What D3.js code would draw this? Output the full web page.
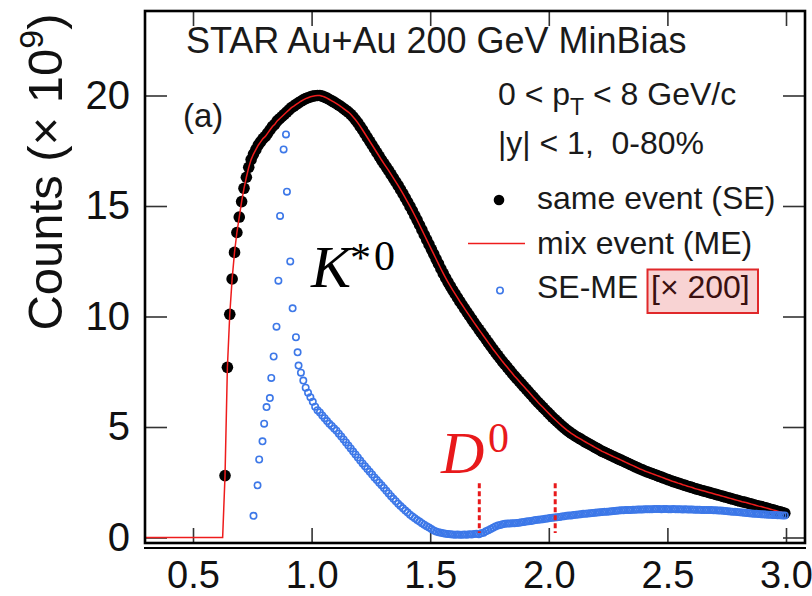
<!DOCTYPE html>
<html><head><meta charset="utf-8">
<script src="https://cdn.jsdelivr.net/npm/d3@7"></script>
<style>body{margin:0;background:#fff}svg{display:block}</style>
</head><body>
<svg id="chart" width="812" height="596"></svg>
<script>
// ---------------- data ----------------
// same event (SE) invariant-mass counts (x 1e9), bins of 0.01 GeV starting at 0.635
const seBinStart = 0.635;
const binWidth = 0.01;
const sameEvent = [
 2.8, 7.7, 10.1, 11.7, 12.9, 13.8, 14.5, 15.2, 15.8, 16.3,
 16.75, 17.1, 17.35, 17.55, 17.75, 17.9, 18.05, 18.15, 18.3, 18.45,
 18.6, 18.7, 18.85, 18.95, 19.05, 19.15, 19.25, 19.35, 19.45, 19.52,
 19.6, 19.67, 19.74, 19.8, 19.86, 19.9, 19.94, 19.97, 19.99, 20.0,
 20.0, 19.97, 19.93, 19.88, 19.82, 19.76, 19.7, 19.63, 19.56, 19.49,
 19.41, 19.33, 19.25, 19.15, 19.03, 18.9, 18.76, 18.6, 18.44, 18.27,
 18.1, 17.93, 17.76, 17.59, 17.42, 17.25, 17.08, 16.92, 16.76, 16.6,
 16.43, 16.26, 16.09, 15.92, 15.74, 15.56, 15.37, 15.18, 14.98, 14.78,
 14.57, 14.36, 14.14, 13.92, 13.7, 13.48, 13.26, 13.04, 12.82, 12.6,
 12.38, 12.16, 11.95, 11.75, 11.56, 11.37, 11.19, 11.02, 10.85, 10.68,
 10.52, 10.36, 10.2, 10.04, 9.88, 9.72, 9.57, 9.42, 9.27, 9.12,
 8.97, 8.82, 8.67, 8.52, 8.38, 8.24, 8.1, 7.96, 7.83, 7.7,
 7.57, 7.44, 7.31, 7.19, 7.07, 6.95, 6.83, 6.71, 6.59, 6.47,
 6.35, 6.23, 6.11, 6.0, 5.89, 5.78, 5.67, 5.56, 5.45, 5.35,
 5.25, 5.15, 5.05, 4.96, 4.87, 4.79, 4.71, 4.64, 4.57, 4.51,
 4.45, 4.38, 4.32, 4.26, 4.2, 4.14, 4.08, 4.02, 3.96, 3.9,
 3.85, 3.8, 3.75, 3.7, 3.65, 3.6, 3.55, 3.5, 3.45, 3.4,
 3.35, 3.3, 3.25, 3.2, 3.15, 3.1, 3.06, 3.01, 2.97, 2.93,
 2.89, 2.85, 2.81, 2.77, 2.73, 2.69, 2.65, 2.61, 2.57, 2.53,
 2.5, 2.46, 2.43, 2.39, 2.36, 2.32, 2.29, 2.26, 2.22, 2.19,
 2.16, 2.13, 2.1, 2.07, 2.04, 2.01, 1.98, 1.95, 1.92, 1.89,
 1.86, 1.83, 1.8, 1.77, 1.74, 1.71, 1.68, 1.65, 1.62, 1.6,
 1.57, 1.54, 1.51, 1.48, 1.45, 1.42, 1.4, 1.37, 1.34, 1.31,
 1.28, 1.25, 1.22, 1.19, 1.16, 1.13, 1.1
];

// mixed event (ME): zero below the K-pi threshold, then lies on top of the SE points
const meBelowThreshold = [[0.297, 0], [0.625, 0]];

// SE-ME (x 200): sparse low-mass points [mass, counts]
const seMinusMeLow = [
 [0.755, 0.98], [0.772, 2.36], [0.779, 3.53], [0.793, 4.35], [0.800, 5.15],
 [0.810, 5.90], [0.824, 6.31], [0.830, 7.22], [0.840, 8.19], [0.852, 9.54],
 [0.860, 11.62], [0.867, 14.55], [0.882, 17.56], [0.892, 18.24], [0.896, 15.65],
 [0.910, 12.49], [0.920, 10.37], [0.934, 9.06], [0.941, 8.38], [0.945, 7.78]
];
// SE-ME (x 200): bins of 0.01 GeV starting at 0.955
const residualBinStart = 0.955;
const seMinusMe = [
 7.46, 7.1, 6.78, 6.55, 6.35, 6.14, 5.92, 5.76, 5.66, 5.52,
 5.4, 5.27, 5.15, 5.05, 4.93, 4.83, 4.7, 4.57, 4.44, 4.3,
 4.16, 4.03, 3.89, 3.76, 3.62, 3.48, 3.35, 3.22, 3.1, 2.97,
 2.85, 2.72, 2.6, 2.48, 2.36, 2.24, 2.11, 1.99, 1.87, 1.75,
 1.64, 1.53, 1.42, 1.32, 1.22, 1.13, 1.03, 0.95, 0.87, 0.79,
 0.72, 0.65, 0.58, 0.51, 0.45, 0.38, 0.32, 0.27, 0.24, 0.21,
 0.19, 0.17, 0.16, 0.15, 0.14, 0.13, 0.14, 0.12, 0.13, 0.14,
 0.12, 0.15, 0.14, 0.16, 0.17, 0.15, 0.19, 0.22, 0.28, 0.33,
 0.38, 0.44, 0.5, 0.54, 0.57, 0.6, 0.62, 0.63, 0.63, 0.64,
 0.64, 0.66, 0.67, 0.69, 0.7, 0.72, 0.74, 0.75, 0.77, 0.79,
 0.8, 0.82, 0.83, 0.85, 0.86, 0.88, 0.89, 0.9, 0.92, 0.93,
 0.95, 0.96, 0.98, 0.99, 1.0, 1.02, 1.03, 1.04, 1.05, 1.07,
 1.08, 1.09, 1.1, 1.11, 1.12, 1.13, 1.14, 1.15, 1.16, 1.17,
 1.18, 1.19, 1.2, 1.21, 1.22, 1.23, 1.23, 1.24, 1.25, 1.25,
 1.26, 1.26, 1.27, 1.27, 1.27, 1.28, 1.28, 1.28, 1.28, 1.29,
 1.29, 1.29, 1.28, 1.29, 1.29, 1.28, 1.28, 1.29, 1.28, 1.28,
 1.28, 1.27, 1.28, 1.27, 1.27, 1.27, 1.26, 1.26, 1.26, 1.25,
 1.25, 1.25, 1.24, 1.24, 1.23, 1.23, 1.22, 1.22, 1.21, 1.2,
 1.19, 1.18, 1.17, 1.16, 1.15, 1.14, 1.13, 1.12, 1.11, 1.1,
 1.09, 1.08, 1.07, 1.06, 1.05, 1.05, 1.04, 1.03, 1.03, 1.02,
 1.02, 1.01, 1.01, 1.0, 1.0
];

const xTicks = [0.5, 1.0, 1.5, 2.0, 2.5, 3.0];
const yTicks = [0, 5, 10, 15, 20];
const d0Window = [1.707, 2.027];      // dotted red lines (GeV)
const d0LineSpan = [0.2, 2.45];       // vertical extent of the dotted lines (x1e9)

const titleText = "STAR Au+Au 200 GeV MinBias";
const panelLabel = "(a)";
const legendLabels = ["same event (SE)", "mix event (ME)", "SE-ME"];
const scaleLabel = "[\u00d7 200]";

// ---------------- drawing ----------------
const svg = d3.select("#chart");
const frame = {left: 145, right: 805, top: 11, bottom: 543};
const x = d3.scaleLinear().domain([0.5, 3.0]).range([193, 786]);
const y = d3.scaleLinear().domain([0, 20]).range([537.5, 95.5]);

const seData = sameEvent.map((v, i) => [seBinStart + i * binWidth, v]);
const meData = meBelowThreshold.concat(seData);
const resData = seMinusMeLow.concat(seMinusMe.map((v, i) => [residualBinStart + i * binWidth, v]));

const FONT = "'Liberation Sans', Arial, Helvetica, sans-serif";
const SERIF = "'Liberation Serif', 'DejaVu Serif', serif";

svg.append("rect").attr("width", 812).attr("height", 596).attr("fill", "#fff");

// axes (ticks inside the frame on all four sides)
function styleAxis(g) {
  g.select(".domain").remove();
  g.selectAll(".tick line").attr("stroke", "#333").attr("stroke-width", 1.6);
}
svg.append("g").attr("transform", `translate(0,${frame.bottom})`)
  .call(d3.axisBottom(x).tickValues(xTicks).tickSizeInner(-15).tickSizeOuter(0)
    .tickPadding(18).tickFormat(d3.format(".1f")))
  .call(styleAxis)
  .call(g => g.selectAll(".tick text").attr("font-family", FONT).attr("font-size", 38)
    .attr("fill", "#111").attr("dy", "0.71em"));
svg.append("g").attr("transform", `translate(0,${frame.top})`)
  .call(d3.axisTop(x).tickValues(xTicks).tickSizeInner(-15).tickSizeOuter(0).tickFormat(""))
  .call(styleAxis);
svg.append("g").attr("transform", `translate(${frame.left},0)`)
  .call(d3.axisLeft(y).tickValues(yTicks).tickSizeInner(-22).tickSizeOuter(0).tickPadding(15))
  .call(styleAxis)
  .call(g => g.selectAll(".tick text").attr("font-family", FONT).attr("font-size", 40)
    .attr("fill", "#111"));
svg.append("g").attr("transform", `translate(${frame.right},0)`)
  .call(d3.axisRight(y).tickValues(yTicks).tickSizeInner(-22).tickSizeOuter(0).tickFormat(""))
  .call(styleAxis);

// data: SE black dots
const plot = svg.append("g");
plot.append("g").selectAll("circle").data(seData).join("circle")
  .attr("cx", d => x(d[0])).attr("cy", d => y(d[1])).attr("r", 5.8).attr("fill", "#000");

// ME red line
plot.append("path").datum(meData)
  .attr("d", d3.line().x(d => x(d[0])).y(d => y(d[1])))
  .attr("fill", "none").attr("stroke", "#ee1c1c").attr("stroke-width", 1.5);

// SE-ME blue open circles
plot.append("g").selectAll("circle").data(resData).join("circle")
  .attr("cx", d => x(d[0])).attr("cy", d => y(d[1])).attr("r", 3.2)
  .attr("fill", "none").attr("stroke", "#3d78e8").attr("stroke-width", 1.6);

// D0 dotted window
plot.append("g").selectAll("line").data(d0Window).join("line")
  .attr("x1", d => x(d)).attr("x2", d => x(d))
  .attr("y1", y(d0LineSpan[1])).attr("y2", y(d0LineSpan[0]))
  .attr("stroke", "#e8191b").attr("stroke-width", 3).attr("stroke-dasharray", "5,3");

// frame
svg.append("rect").attr("x", frame.left).attr("y", frame.top)
  .attr("width", frame.right - frame.left).attr("height", frame.bottom - frame.top)
  .attr("fill", "none").attr("stroke", "#000").attr("stroke-width", 2.6);
svg.append("line").attr("x1", frame.left - 1).attr("x2", frame.right + 1)
  .attr("y1", frame.bottom + 5).attr("y2", frame.bottom + 5)
  .attr("stroke", "#000").attr("stroke-width", 1.8);

// title and labels
svg.append("text").attr("x", 186).attr("y", 53).attr("font-family", FONT)
  .attr("font-size", 36).attr("fill", "#1a1a1a").text(titleText);
svg.append("text").attr("x", 183).attr("y", 127).attr("font-family", FONT)
  .attr("font-size", 33).attr("fill", "#1a1a1a").text(panelLabel);

const yl = svg.append("text").attr("transform", "translate(62,172) rotate(-90)")
  .attr("text-anchor", "middle").attr("font-family", FONT).attr("font-size", 49).attr("fill", "#111");
yl.append("tspan").text("Counts (\u00d7 10");
yl.append("tspan").attr("font-size", 34).attr("dy", -19).text("9");
yl.append("tspan").attr("dy", 19).text(")");

// kinematic cuts
const t1 = svg.append("text").attr("x", 498).attr("y", 105).attr("font-family", FONT)
  .attr("font-size", 32).attr("fill", "#1a1a1a");
t1.append("tspan").text("0 < p");
t1.append("tspan").attr("font-size", 23).attr("dy", 10).text("T");
t1.append("tspan").attr("dy", -10).text(" < 8 GeV/c");
svg.append("text").attr("x", 498).attr("y", 154).attr("font-family", FONT)
  .attr("font-size", 32).attr("fill", "#1a1a1a").attr("xml:space", "preserve")
  .text("|y| < 1,  0-80%");

// legend
const lg = svg.append("g").attr("font-family", FONT).attr("font-size", 32).attr("fill", "#1a1a1a");
lg.append("circle").attr("cx", 499).attr("cy", 200).attr("r", 5.3).attr("fill", "#000");
lg.append("text").attr("x", 537).attr("y", 209).text(legendLabels[0]);
lg.append("line").attr("x1", 468).attr("x2", 525).attr("y1", 243.5).attr("y2", 243.5)
  .attr("stroke", "#ee1c1c").attr("stroke-width", 1.5);
lg.append("text").attr("x", 537).attr("y", 254).text(legendLabels[1]);
lg.append("circle").attr("cx", 500).attr("cy", 290.5).attr("r", 3.2)
  .attr("fill", "none").attr("stroke", "#3d78e8").attr("stroke-width", 1.6);
lg.append("text").attr("x", 537).attr("y", 298).text(legendLabels[2]);
lg.append("rect").attr("x", 647.5).attr("y", 269.5).attr("width", 110.5).attr("height", 43.5)
  .attr("fill", "#f8d3d3").attr("stroke", "#e0282a").attr("stroke-width", 2);
lg.append("text").attr("x", 651).attr("y", 298).attr("fill", "#3a1010").text(scaleLabel);

// particle annotations
const k = svg.append("text").attr("font-family", SERIF).attr("fill", "#000");
k.append("tspan").attr("x", 311).attr("y", 287).attr("font-size", 60).attr("font-style", "italic").text("K");
k.append("tspan").attr("x", 350).attr("y", 272).attr("font-size", 42).text("*");
k.append("tspan").attr("x", 374).attr("y", 270).attr("font-size", 42).text("0");

const dz = svg.append("text").attr("font-family", SERIF).attr("fill", "#e8191b");
dz.append("tspan").attr("x", 441).attr("y", 473).attr("font-size", 60).attr("font-style", "italic").text("D");
dz.append("tspan").attr("x", 488).attr("y", 452).attr("font-size", 42).text("0");
</script>
</body></html>
